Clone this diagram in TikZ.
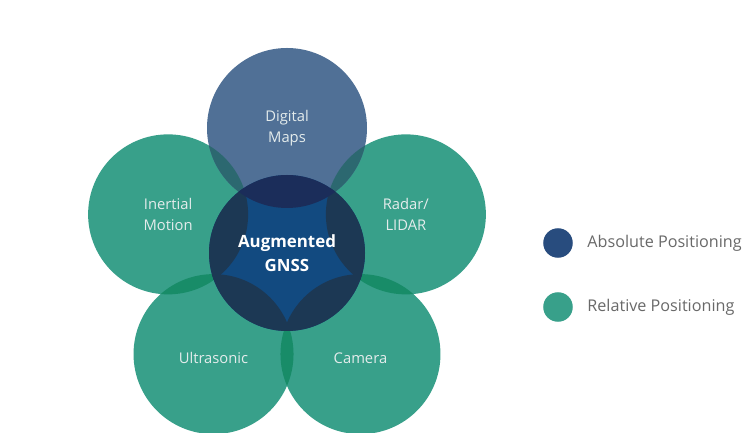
\documentclass[tikz,border=0pt]{standalone}
\usepackage{fontspec}
\setmainfont{Open Sans}
\usetikzlibrary{positioning}

\definecolor{petalgreen}{RGB}{56,160,138}
\definecolor{petallens}{RGB}{24,140,104}
\definecolor{mapblue}{RGB}{80,112,150}
\definecolor{maplens}{RGB}{44,104,112}
\definecolor{hubblue}{RGB}{18,74,128}
\definecolor{hubdark}{RGB}{28,56,84}
\definecolor{hubnavy}{RGB}{27,45,90}
\definecolor{absblue}{RGB}{40,76,126}
\definecolor{labelgray}{RGB}{228,236,236}
\definecolor{legendgray}{RGB}{105,105,105}

\tikzset{
  petaltext/.style={align=center, text=labelgray, font=\fontsize{10.5}{15}\selectfont},
  hubtext/.style={align=center, text=white, font=\bfseries\fontsize{12}{17}\selectfont},
  legenddot/.style={circle, minimum size=21pt, inner sep=0pt},
  legendtext/.style={text=legendgray, font=\fontsize{11.5}{13}\selectfont, inner sep=0pt}
}

% lens between two petals: fill b inside a
\newcommand\petallens[3]{%
  \begin{scope}
    \clip (#1) circle (80);
    \fill[#3] (#2) circle (80);
  \end{scope}}

\begin{document}
\begin{tikzpicture}[x=0.025cm,y=0.025cm]
\useasboundingbox (0,0) rectangle (744,433);
\fill[white] (0,0) rectangle (744,433);

%% centres of the flower
\coordinate (hub) at (287,180);
\coordinate (mapsc) at ([shift={(90:125)}]hub);
\coordinate (inertialc) at ([shift={(162:125)}]hub);
\coordinate (ultrac) at ([shift={(234:125)}]hub);
\coordinate (camerac) at ([shift={(306:125)}]hub);
\coordinate (radarc) at ([shift={(18:125)}]hub);

%% petals
\foreach \p in {inertialc,ultrac,camerac,radarc}
  \fill[petalgreen] (\p) circle (80);
\fill[mapblue] (mapsc) circle (80);

%% overlaps between petals
\petallens{inertialc}{ultrac}{petallens}
\petallens{ultrac}{camerac}{petallens}
\petallens{camerac}{radarc}{petallens}
\petallens{mapsc}{inertialc}{maplens}
\petallens{mapsc}{radarc}{maplens}

%% centre circle
\fill[hubblue] (hub) circle (78);
\begin{scope}
  \clip (hub) circle (78);
  \foreach \p in {inertialc,ultrac,camerac,radarc}
    \fill[hubdark] (\p) circle (80);
  \fill[hubnavy] (mapsc) circle (80);
\end{scope}

%% labels
\node[petaltext] (maps) at (mapsc) {Digital\\Maps};
\node[petaltext] (inertial) at (inertialc) {Inertial\\Motion};
\node[petaltext] (radar) at (radarc) {Radar/\\LIDAR};
\node[petaltext, yshift=-3pt] (ultra) at (ultrac) {Ultrasonic};
\node[petaltext, yshift=-3pt] (camera) at (camerac) {Camera};
\node[hubtext] (gnss) at (hub) {Augmented\\GNSS};

%% legend
\node[legenddot, fill=absblue] (absdot) at (558,190) {};
\node[legendtext, right=10pt of absdot] (abstext) {Absolute Positioning};
\node[legenddot, fill=petalgreen] (reldot) at (558,126) {};
\node[legendtext, right=10pt of reldot] (reltext) {Relative Positioning};
\end{tikzpicture}
\end{document}
